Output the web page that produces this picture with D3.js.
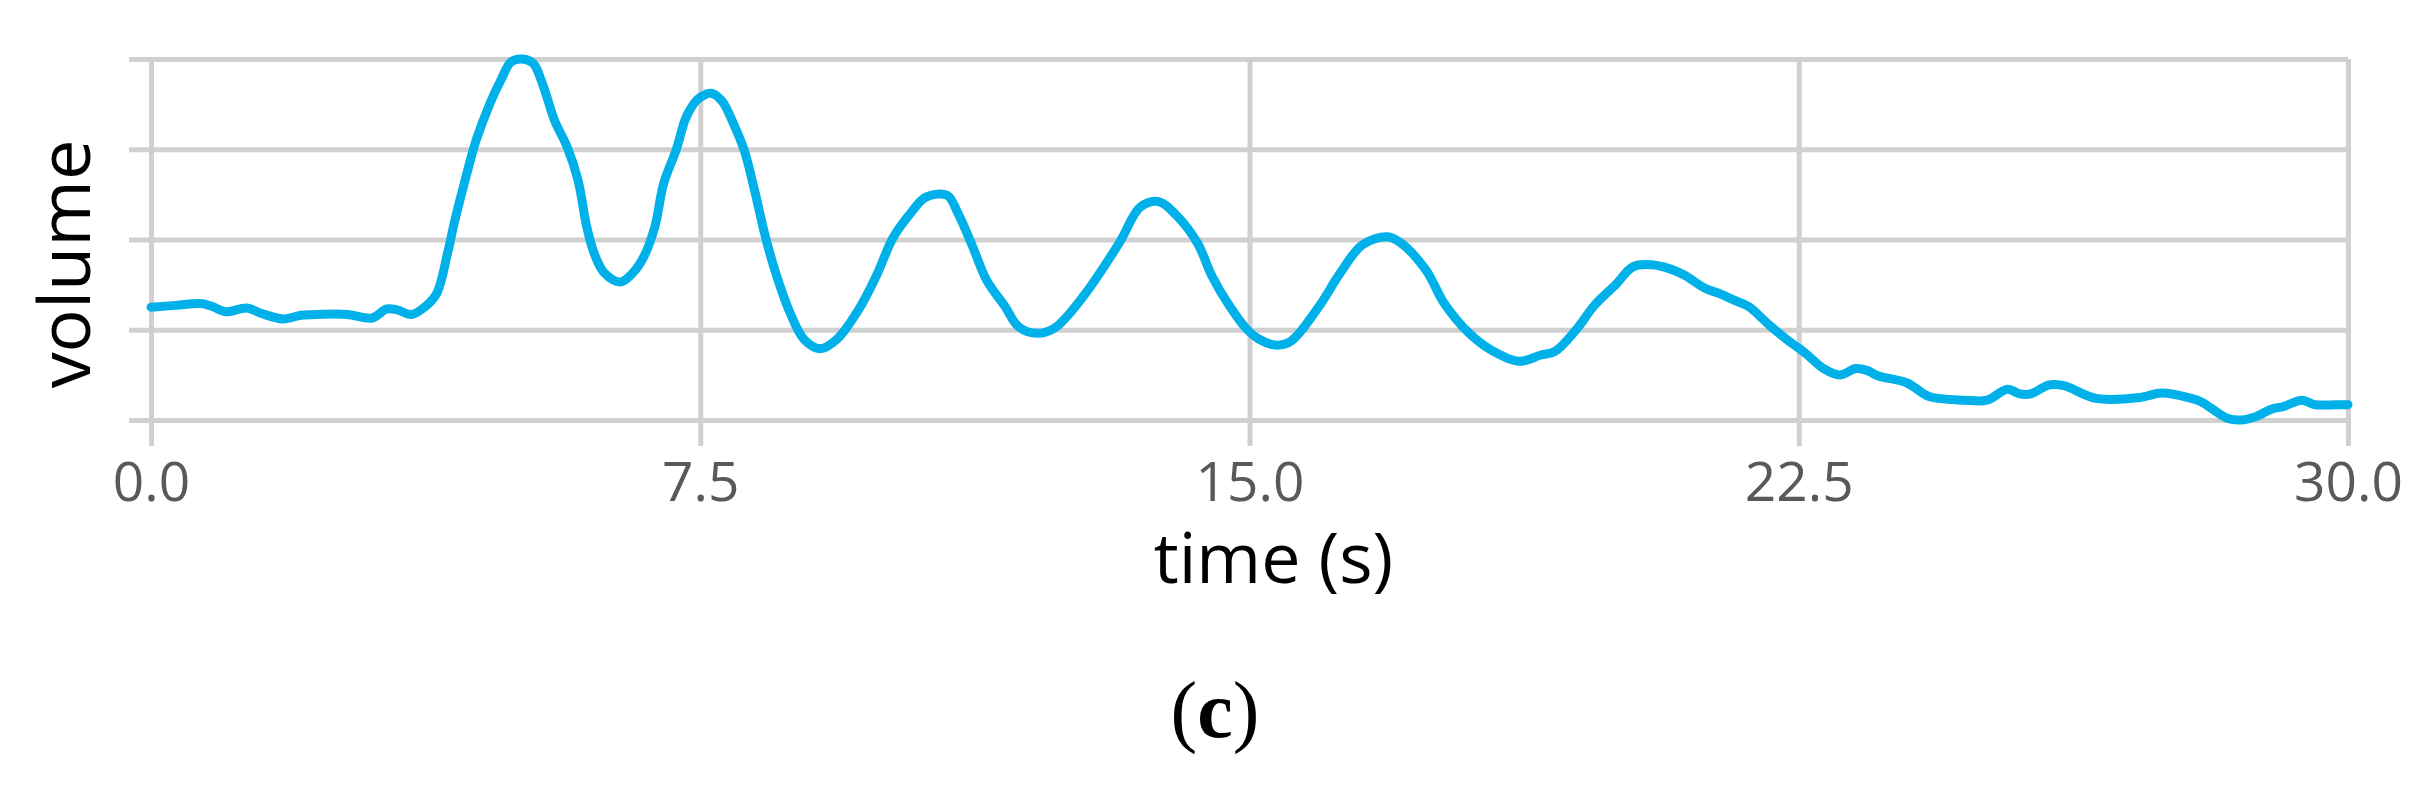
<!DOCTYPE html>
<html>
<head>
<meta charset="utf-8">
<script src="https://cdn.jsdelivr.net/npm/d3@7"></script>
<style>
  body { margin: 0; background: #fff; }
  svg { display: block; }
</style>
</head>
<body>
<div id="chart"></div>
<script>
const svgWidth = 2429
const svgHeight = 785

// time in seconds
const times = [0, 0.34, 0.68, 0.83, 1.02, 1.31, 1.51, 1.80, 2.05, 2.29, 2.68, 3.02, 3.22, 3.36, 3.56, 3.75, 3.90,
  4.05, 4.14, 4.29, 4.44, 4.63, 4.78, 4.92, 5.07, 5.22, 5.36, 5.51, 5.68, 5.83, 5.95, 6.05, 6.19, 6.41, 6.58,
  6.73, 6.88, 7.00, 7.17, 7.31, 7.46, 7.58, 7.66, 7.80, 7.95, 8.10, 8.24, 8.39, 8.53, 8.73, 8.92, 9.14, 9.36,
  9.66, 9.90, 10.14, 10.39, 10.58, 10.87, 11.02, 11.22, 11.41, 11.66, 11.85, 12.10, 12.34, 12.73, 13.22, 13.51,
  13.76, 14.00, 14.29, 14.49, 14.73, 14.97, 15.12, 15.36, 15.56, 15.95, 16.24, 16.54, 16.88, 17.07, 17.41,
  17.66, 18.00, 18.29, 18.68, 18.98, 19.17, 19.46, 19.71, 20.00, 20.24, 20.49, 20.72, 20.93, 21.22, 21.42,
  21.61, 21.81, 22.10, 22.34, 22.59, 22.84, 23.06, 23.28, 23.43, 23.58, 23.98, 24.28, 24.77, 25.07, 25.35,
  25.52, 25.67, 25.92, 26.12, 26.56, 27.16, 27.46, 27.86, 28.00, 28.35, 28.55, 28.75, 28.95, 29.12, 29.37,
  29.54, 29.84, 30.0]

// volume, in grid units (0 = bottom line, 4 = top line)
const volume = [1.25, 1.27, 1.29, 1.26, 1.20, 1.24, 1.18, 1.12, 1.16, 1.17, 1.17, 1.13, 1.23, 1.22, 1.17, 1.26, 1.40,
  1.85, 2.18, 2.66, 3.10, 3.51, 3.77, 3.97, 4.00, 3.95, 3.69, 3.32, 3.03, 2.66, 2.14, 1.85, 1.63, 1.53, 1.63,
  1.81, 2.14, 2.62, 2.99, 3.36, 3.55, 3.61, 3.62, 3.53, 3.29, 2.99, 2.55, 2.03, 1.63, 1.18, 0.89, 0.79, 0.89,
  1.22, 1.59, 2.03, 2.31, 2.47, 2.49, 2.29, 1.92, 1.55, 1.26, 1.03, 0.96, 1.02, 1.37, 1.96, 2.36,
  2.42, 2.27, 1.96, 1.59, 1.26, 1.00, 0.90, 0.83, 0.87, 1.26, 1.63, 1.94, 2.03, 1.96, 1.66,
  1.29, 0.96, 0.78, 0.65, 0.72, 0.76, 1.00, 1.27, 1.50, 1.70, 1.72, 1.68, 1.61, 1.46, 1.40,
  1.33, 1.26, 1.05, 0.89, 0.74, 0.57, 0.50, 0.57, 0.55, 0.49, 0.41, 0.26, 0.22, 0.22, 0.34,
  0.29, 0.29, 0.39, 0.38, 0.24, 0.25, 0.30, 0.24, 0.20, 0.02, 0.00, 0.04, 0.12, 0.15, 0.22,
  0.17, 0.17, 0.17]

const xTicks = [0, 7.5, 15, 22.5, 30]
const yTicks = [0, 1, 2, 3, 4]

var margin = { left: 151, right: 81, top: 59, bottom: 365 }
var width = svgWidth - margin.left - margin.right,
    height = svgHeight - margin.top - margin.bottom

let svg = d3.select("#chart")
  .append("svg")
  .attr("width", svgWidth)
  .attr("height", svgHeight)

let g = svg.append("g")
  .attr("transform", "translate(" + margin.left + ", " + margin.top + ")")

var x = d3.scaleLinear().domain([0, 30]).range([0, width])
var y = d3.scaleLinear().domain([0, 4]).range([height, 0])

const gridColor = "#d0d0d0"

// horizontal grid (left ticks stick out a bit)
var yAxisCall = d3.axisLeft(y)
  .tickValues(yTicks)
  .tickSize(-(width + 22))
  .tickFormat("")
g.append("g")
  .attr("class", "y axis")
  .attr("transform", "translate(-22, 0)")
  .call(yAxisCall)

// vertical grid + labels
var xAxisCall = d3.axisBottom(x)
  .tickValues(xTicks)
  .tickSize(-(height + 26))
  .tickPadding(16)
  .tickFormat(d3.format(".1f"))
g.append("g")
  .attr("class", "x axis")
  .attr("transform", "translate(0, " + (height + 26) + ")")
  .call(xAxisCall)

g.selectAll(".axis .domain").remove()
g.selectAll(".axis line")
  .attr("stroke", gridColor)
  .attr("stroke-width", 5)
g.selectAll(".x.axis text")
  .attr("font-family", "'Open Sans', sans-serif")
  .attr("font-size", "55px")
  .attr("fill", "#595959")

// line
var line = d3.line()
  .x((d, i) => x(times[i]))
  .y(d => y(d))
  .curve(d3.curveCatmullRom.alpha(0.5))

g.append("path")
  .datum(volume)
  .attr("fill", "none")
  .attr("stroke", "#00b0e8")
  .attr("stroke-width", 9)
  .attr("stroke-linejoin", "round")
  .attr("stroke-linecap", "round")
  .attr("d", line)

// labels
g.append("text")
  .attr("class", "x axis-label")
  .attr("x", width / 2 + 24)
  .attr("y", 583 - margin.top)
  .attr("font-family", "'Open Sans', sans-serif")
  .attr("font-size", "70px")
  .attr("text-anchor", "middle")
  .attr("fill", "#000")
  .text("time (s)")

g.append("text")
  .attr("class", "y axis-label")
  .attr("x", -(264 - margin.top))
  .attr("y", 90 - margin.left)
  .attr("font-family", "'Open Sans', sans-serif")
  .attr("font-size", "72px")
  .attr("text-anchor", "middle")
  .attr("fill", "#000")
  .attr("transform", "rotate(-90)")
  .text("volume")

var cap = svg.append("text")
  .attr("x", 1215)
  .attr("y", 737)
  .attr("font-family", "'Liberation Serif', serif")
  .attr("font-size", "80px")
  .attr("text-anchor", "middle")
  .attr("fill", "#000")
cap.append("tspan").text("(")
cap.append("tspan").attr("font-weight", "bold").text("c")
cap.append("tspan").text(")")
</script>
</body>
</html>
